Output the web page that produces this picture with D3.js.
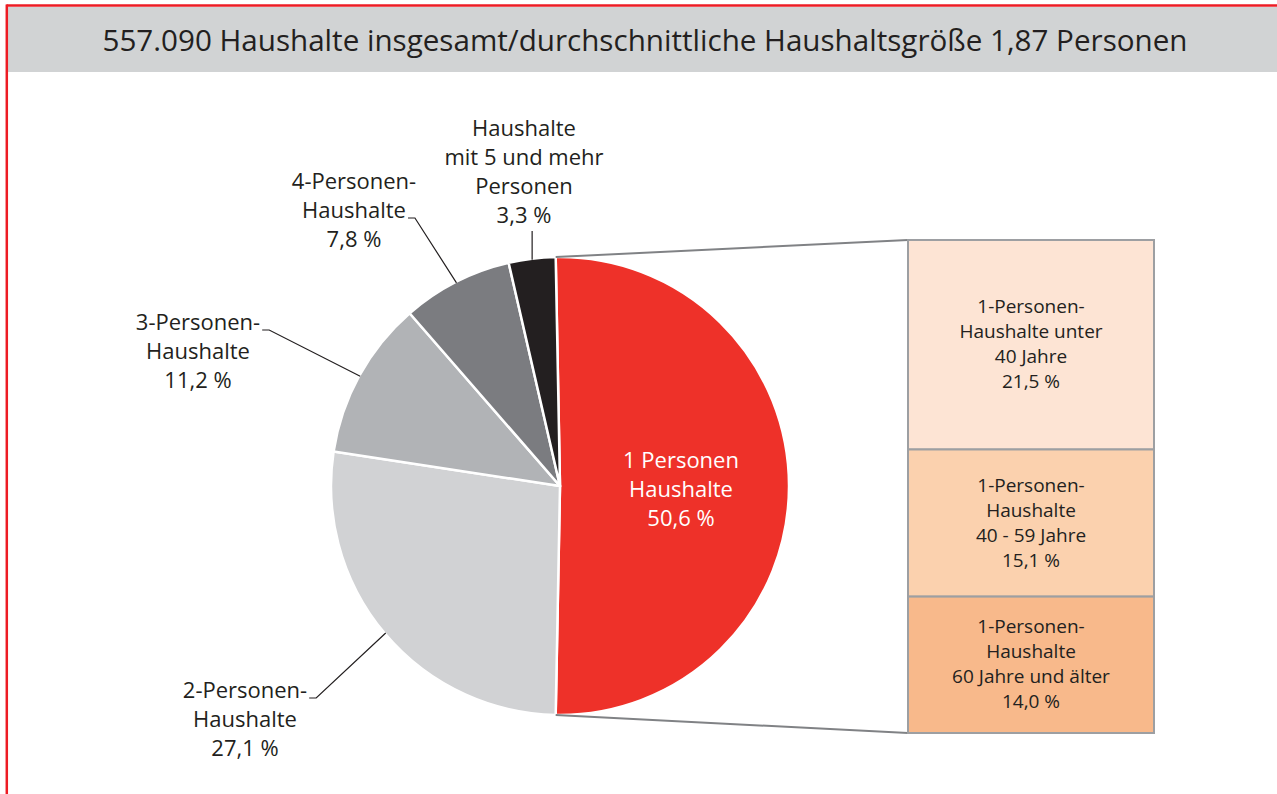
<!DOCTYPE html>
<html>
<head>
    <meta charset="utf-8">
    <script src="https://d3js.org/d3.v7.min.js"></script>
    <style>
        body { margin: 0; background: #ffffff; font-family: 'Open Sans', sans-serif; }
    </style>
</head>
<body>
    <svg id="chart" width="1277" height="794"></svg>
    <script>
        var title = "557.090 Haushalte insgesamt/durchschnittliche Haushaltsgröße 1,87 Personen";

        // pie: share of households by size (%)
        var categories = ["1 Personen Haushalte", "2-Personen-Haushalte", "3-Personen-Haushalte", "4-Personen-Haushalte", "Haushalte mit 5 und mehr Personen"];
        var shares = [50.6, 27.1, 11.2, 7.8, 3.3];
        var labelLines = [
            ["1 Personen", "Haushalte", "50,6 %"],
            ["2-Personen-", "Haushalte", "27,1 %"],
            ["3-Personen-", "Haushalte", "11,2 %"],
            ["4-Personen-", "Haushalte", "7,8 %"],
            ["Haushalte", "mit 5 und mehr", "Personen", "3,3 %"]
        ];

        // breakdown of the 1-person households (%)
        var subCategories = ["unter 40 Jahre", "40 - 59 Jahre", "60 Jahre und älter"];
        var subShares = [21.5, 15.1, 14.0];
        var subLines = [
            ["1-Personen-", "Haushalte unter", "40 Jahre", "21,5 %"],
            ["1-Personen-", "Haushalte", "40 - 59 Jahre", "15,1 %"],
            ["1-Personen-", "Haushalte", "60 Jahre und älter", "14,0 %"]
        ];

        var pieColors = ["#ee3129", "#d1d2d4", "#b1b3b6", "#7b7c80", "#231f20"];
        var subColors = ["#fde4d4", "#fbd1ae", "#f8b98b"];
        var textColor = "#231f20";

        var svg = d3.select("#chart");

        // frame and header
        svg.append("rect")
            .attr("x", 6).attr("y", 7).attr("width", 1271).attr("height", 65)
            .attr("fill", "#d1d3d4");
        svg.append("line")
            .attr("x1", 6.5).attr("x2", 1277).attr("y1", 5.5).attr("y2", 5.5)
            .attr("stroke", "#ed1c24").attr("stroke-width", 2.5);
        svg.append("line")
            .attr("x1", 6.8).attr("x2", 6.8).attr("y1", 4.5).attr("y2", 794)
            .attr("stroke", "#ed1c24").attr("stroke-width", 2.5);

        svg.append("text")
            .attr("x", 645).attr("y", 51)
            .attr("text-anchor", "middle")
            .attr("font-size", "29.6px")
            .attr("fill", textColor)
            .text(title);

        // pie
        var cx = 560, cy = 486, R = 229;
        var total = d3.sum(shares);
        var start = Math.PI / 2 - (shares[0] / total) * Math.PI;
        var pie = d3.pie().sort(null).startAngle(start).endAngle(start + 2 * Math.PI);
        var arcs = pie(shares);
        var arc = d3.arc().innerRadius(0).outerRadius(R);

        var g = svg.append("g").attr("transform", "translate(" + cx + "," + cy + ")");

        g.selectAll("path.slice")
            .data(arcs)
            .enter().append("path")
            .attr("class", "slice")
            .attr("d", arc)
            .attr("fill", function (d, i) { return pieColors[i]; })
            .attr("stroke", "#ffffff")
            .attr("stroke-width", 2.5)
            .attr("stroke-linejoin", "round");

        function pointAt(angle, r) {
            return [cx + r * Math.sin(angle), cy - r * Math.cos(angle)];
        }

        // sub-breakdown boxes
        var boxX = 908, boxW = 246;
        var yBox = d3.scaleLinear().domain([0, d3.sum(subShares)]).range([240, 733]);
        var cum = [0];
        subShares.forEach(function (v, i) { cum.push(cum[i] + v); });

        // connectors from red slice to boxes
        var pTop = pointAt(arcs[0].startAngle, R);
        var pBot = pointAt(arcs[0].endAngle, R);
        svg.append("line")
            .attr("x1", pTop[0]).attr("y1", pTop[1]).attr("x2", boxX).attr("y2", yBox(0))
            .attr("stroke", "#808285").attr("stroke-width", 2);
        svg.append("line")
            .attr("x1", pBot[0]).attr("y1", pBot[1]).attr("x2", boxX).attr("y2", yBox(cum[3]))
            .attr("stroke", "#808285").attr("stroke-width", 2);

        var boxes = svg.selectAll("g.box")
            .data(subShares)
            .enter().append("g")
            .attr("class", "box");
        boxes.append("rect")
            .attr("x", boxX)
            .attr("y", function (d, i) { return yBox(cum[i]); })
            .attr("width", boxW)
            .attr("height", function (d, i) { return yBox(cum[i + 1]) - yBox(cum[i]); })
            .attr("fill", function (d, i) { return subColors[i]; })
            .attr("stroke", "#9d9fa2")
            .attr("stroke-width", 2);
        boxes.append("text")
            .attr("text-anchor", "middle")
            .attr("font-size", "19px")
            .attr("fill", textColor)
            .each(function (d, i) {
                var lines = subLines[i];
                var lh = 25;
                var mid = (yBox(cum[i]) + yBox(cum[i + 1])) / 2;
                var y0 = mid - (lines.length - 1) * lh / 2 + 6;
                d3.select(this).selectAll("tspan")
                    .data(lines)
                    .enter().append("tspan")
                    .attr("x", boxX + boxW / 2)
                    .attr("y", function (t, j) { return y0 + j * lh; })
                    .text(function (t) { return t; });
            });

        // pie labels: anchor (centre x, first baseline), line on which the leader starts
        var labelPos = [
            { x: 681, y: 468, lead: -1 },
            { x: 245, y: 698, lead: 0 },
            { x: 198, y: 330, lead: 0 },
            { x: 354, y: 189, lead: 1 },
            { x: 524, y: 136, lead: -2 }
        ];
        var lineH = 29;

        arcs.forEach(function (a, i) {
            var pos = labelPos[i];
            var t = svg.append("text")
                .attr("text-anchor", "middle")
                .attr("font-size", "22px")
                .attr("fill", i === 0 ? "#ffffff" : textColor);
            var spans = t.selectAll("tspan")
                .data(labelLines[i])
                .enter().append("tspan")
                .attr("x", pos.x)
                .attr("y", function (s, j) { return pos.y + j * lineH; })
                .text(function (s) { return s; });

            var mid = (a.startAngle + a.endAngle) / 2;
            var end = pointAt(mid, R - 1);
            if (pos.lead >= 0) {
                var w = spans.nodes()[pos.lead].getComputedTextLength();
                var ly = pos.y + pos.lead * lineH;
                var lx = pos.x + w / 2 + 2;
                svg.append("path")
                    .attr("d", "M" + lx + "," + ly + "H" + (lx + 7) + "L" + end[0] + "," + end[1])
                    .attr("fill", "none")
                    .attr("stroke", textColor)
                    .attr("stroke-width", 1.2);
            } else if (pos.lead === -2) {
                var by = pos.y + (labelLines[i].length - 1) * lineH + 8;
                svg.append("line")
                    .attr("x1", end[0]).attr("y1", by)
                    .attr("x2", end[0]).attr("y2", end[1])
                    .attr("stroke", textColor)
                    .attr("stroke-width", 1.2);
            }
        });
    </script>
</body>
</html>
